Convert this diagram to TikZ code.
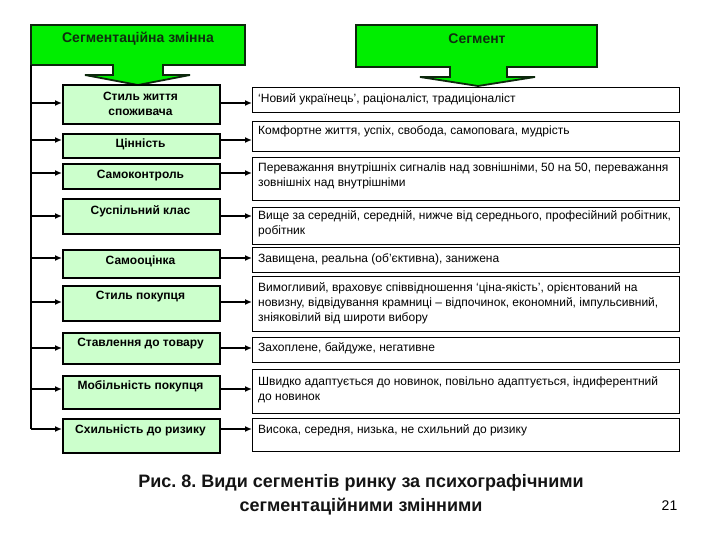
\documentclass[tikz,border=0pt]{standalone}
\usepackage{fontspec}
\setmainfont{Liberation Sans}
\usetikzlibrary{arrows.meta,calc}
\definecolor{hdrgreen}{RGB}{0,238,0}
\definecolor{lgreen}{RGB}{204,255,204}
\definecolor{hdrline}{RGB}{12,40,12}
\definecolor{hdrtext}{RGB}{15,45,15}
\frenchspacing
\begin{document}
\begin{tikzpicture}[x=1pt,y=-1pt,
  lbox/.style={draw=black, line width=2pt, fill=lgreen, minimum width=157pt, anchor=north west, inner sep=0pt},
  rbox/.style={draw=black, line width=1.1pt, fill=white, minimum width=427pt, anchor=north west, inner sep=0pt},
  ltext/.style={font=\fontsize{12}{15}\selectfont\bfseries, align=center, anchor=north, inner sep=0pt},
  rtext/.style={font=\fontsize{12}{15}\selectfont, align=left, anchor=north west, inner sep=0pt},
  htext/.style={font=\fontsize{14}{15}\selectfont\bfseries, text=hdrtext, inner sep=0pt},
  hdr/.style={draw=hdrline, line width=1.8pt, fill=hdrgreen, line join=miter},
  arr/.style={line width=1.4pt, -{Latex[length=7pt,width=6pt]}},
  trunkline/.style={line width=1.4pt}
]
\fill[white] (0,0) rectangle (720,540);
\useasboundingbox (0,0) rectangle (720,540);

% headers
\draw[hdr] (31,25) -- (245,25) -- (245,65) -- (163,65) -- (163,75) -- (190,75) -- (138,85) -- (85,75) -- (113,75) -- (113,65) -- (31,65) -- cycle;
\draw[hdr] (356,25) -- (597,25) -- (597,67) -- (507,67) -- (507,77) -- (535,77) -- (478,86) -- (420,77) -- (450,77) -- (450,67) -- (356,67) -- cycle;
\node[htext] (h1) at (138,39) {Сегментаційна змінна};
\node[htext] (h2) at (477,39) {Сегмент};

% left boxes
\node[lbox, minimum height=39pt] (l1) at (62,84) {};
\node[lbox, minimum height=24pt] (l2) at (62,133) {};
\node[lbox, minimum height=25pt] (l3) at (62,163) {};
\node[lbox, minimum height=35pt] (l4) at (62,198) {};
\node[lbox, minimum height=28pt] (l5) at (62,249) {};
\node[lbox, minimum height=35pt] (l6) at (62,285) {};
\node[lbox, minimum height=31pt] (l7) at (62,332) {};
\node[lbox, minimum height=33pt] (l8) at (62,375) {};
\node[lbox, minimum height=34pt] (l9) at (62,418) {};

\node[ltext] (lt1) at (140.5,89.5) {\strut Стиль життя\\споживача};
\node[ltext] (lt2) at (140.5,136.5) {\strut Цінність};
\node[ltext] (lt3) at (140.5,167.5) {\strut Самоконтроль};
\node[ltext] (lt4) at (140.5,203.5) {\strut Суспільний клас};
\node[ltext] (lt5) at (140.5,253.5) {\strut Самооцінка};
\node[ltext] (lt6) at (140.5,288.5) {\strut Стиль покупця};
\node[ltext] (lt7) at (140.5,335.5) {\strut Ставлення до товару};
\node[ltext] (lt8) at (140.5,378.5) {\strut Мобільність покупця};
\node[ltext] (lt9) at (140.5,422.5) {\strut Схильність до ризику};

% right boxes
\node[rbox, minimum height=25pt] (r1) at (252,87) {};
\node[rbox, minimum height=30pt] (r2) at (252,121) {};
\node[rbox, minimum height=43pt] (r3) at (252,157) {};
\node[rbox, minimum height=37pt] (r4) at (252,207) {};
\node[rbox, minimum height=25pt] (r5) at (252,247) {};
\node[rbox, minimum height=55pt] (r6) at (252,276) {};
\node[rbox, minimum height=25pt] (r7) at (252,337) {};
\node[rbox, minimum height=44pt] (r8) at (252,369) {};
\node[rbox, minimum height=33pt] (r9) at (252,418) {};

\node[rtext] (rt1) at (258,91.5) {\strut ‘Новий українець’, раціоналіст, традиціоналіст};
\node[rtext] (rt2) at (258,123.5) {\strut Комфортне життя, успіх, свобода, самоповага, мудрість};
\node[rtext] (rt3) at (258,160.5) {\strut Переважання внутрішніх сигналів над зовнішніми, 50 на 50, переважання\\зовнішніх над внутрішніми};
\node[rtext] (rt4) at (258,208.5) {\strut Вище за середній, середній, нижче від середнього, професійний робітник,\\робітник};
\node[rtext] (rt5) at (258,251.5) {\strut Завищена, реальна (об’єктивна), занижена};
\node[rtext] (rt6) at (258,280.5) {\strut Вимогливий, враховує співвідношення ‘ціна-якість’, орієнтований на\\новизну, відвідування крамниці – відпочинок, економний, імпульсивний,\\зніяковілий від широти вибору};
\node[rtext] (rt7) at (258,340.5) {\strut Захоплене, байдуже, негативне};
\node[rtext] (rt8) at (258,374.5) {\strut Швидко адаптується до новинок, повільно адаптується, індиферентний\\до новинок};
\node[rtext] (rt9) at (258,422.5) {\strut Висока, середня, низька, не схильний до ризику};

% connectors
\coordinate (trunk) at (31,65);
\coordinate (y1) at (0,103);
\coordinate (y2) at (0,140);
\coordinate (y3) at (0,173);
\coordinate (y4) at (0,216);
\coordinate (y5) at (0,258);
\coordinate (y6) at (0,302);
\coordinate (y7) at (0,348);
\coordinate (y8) at (0,389);
\coordinate (y9) at (0,429);
\draw[trunkline] (trunk) -- (trunk |- y9);
\foreach \i in {1,...,9}{
  \draw[arr] (trunk |- y\i) -- (l\i.west |- y\i);
  \draw[arr] (l\i.east |- y\i) -- (r\i.west |- y\i);
}

% caption
\node[font=\fontsize{18}{24}\selectfont\bfseries, align=center, text=black!92, anchor=north, inner sep=0pt] (cap) at (361,470.6) {\strut Рис. 8. Види сегментів ринку за психографічними\\сегментаційними змінними};
\node[font=\fontsize{14}{16}\selectfont, anchor=base, inner sep=0pt] (pg) at (669.5,510) {21};
\end{tikzpicture}
\end{document}
